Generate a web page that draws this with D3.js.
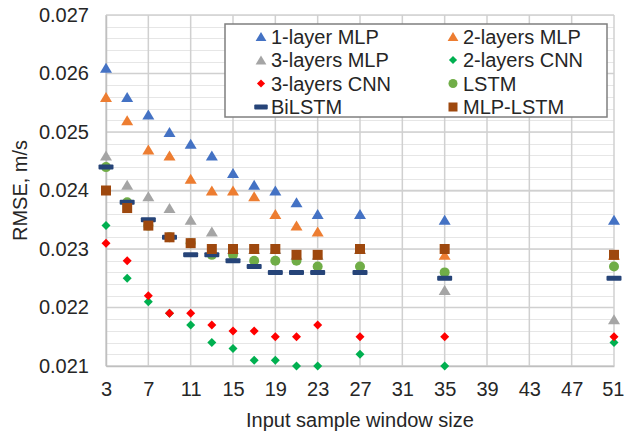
<!DOCTYPE html>
<html>
<head>
<meta charset="utf-8">
<script src="https://cdn.jsdelivr.net/npm/d3@7"></script>
<style>
  body { margin: 0; background: #fff; }
  text { font-family: "Liberation Sans", Arial, sans-serif; fill: #262626; }
</style>
</head>
<body>
<div id="chart"></div>
<script>
// Data
var windowSizes = [3, 5, 7, 9, 11, 13, 15, 17, 19, 21, 23, 27, 35, 51];
var mlp1   = [0.0261, 0.0256, 0.0253, 0.0250, 0.0248, 0.0246, 0.0243, 0.0241, 0.0240, 0.0238, 0.0236, 0.0236, 0.0235, 0.0235];
var mlp2   = [0.0256, 0.0252, 0.0247, 0.0246, 0.0242, 0.0240, 0.0240, 0.0239, 0.0236, 0.0234, 0.0233, 0.0230, 0.0229, 0.0229];
var mlp3   = [0.0246, 0.0241, 0.0239, 0.0237, 0.0235, 0.0233, 0.0230, 0.0230, 0.0230, 0.0229, 0.0229, 0.0230, 0.0223, 0.0218];
var cnn2   = [0.0234, 0.0225, 0.0221, 0.0219, 0.0217, 0.0214, 0.0213, 0.0211, 0.0211, 0.0210, 0.0210, 0.0212, 0.0210, 0.0214];
var cnn3   = [0.0231, 0.0228, 0.0222, 0.0219, 0.0219, 0.0217, 0.0216, 0.0216, 0.0215, 0.0215, 0.0217, 0.0215, 0.0215, 0.0215];
var lstm   = [0.0244, 0.0238, 0.0234, 0.0232, 0.0231, 0.0229, 0.0229, 0.0228, 0.0228, 0.0228, 0.0227, 0.0227, 0.0226, 0.0227];
var bilstm = [0.0244, 0.0238, 0.0235, 0.0232, 0.0229, 0.0229, 0.0228, 0.0227, 0.0226, 0.0226, 0.0226, 0.0226, 0.0225, 0.0225];
var mlpLstm = [0.0240, 0.0237, 0.0234, 0.0232, 0.0231, 0.0230, 0.0230, 0.0230, 0.0230, 0.0229, 0.0229, 0.0230, 0.0230, 0.0229];

var xTicks = [3, 7, 11, 15, 19, 23, 27, 31, 35, 39, 43, 47, 51];
var yTicks = [0.021, 0.022, 0.023, 0.024, 0.025, 0.026, 0.027];

var series = [
    { name: '1-layer MLP',  values: mlp1,    shape: 'triangle', color: '#4472C4' },
    { name: '2-layers MLP', values: mlp2,    shape: 'triangle', color: '#ED7D31' },
    { name: '3-layers MLP', values: mlp3,    shape: 'triangle', color: '#A5A5A5' },
    { name: '2-layers CNN', values: cnn2,    shape: 'diamond',  color: '#00B050' },
    { name: '3-layers CNN', values: cnn3,    shape: 'diamond',  color: '#FF0000' },
    { name: 'LSTM',         values: lstm,    shape: 'circle',   color: '#70AD47' },
    { name: 'BiLSTM',       values: bilstm,  shape: 'dash',     color: '#264478' },
    { name: 'MLP-LSTM',     values: mlpLstm, shape: 'square',   color: '#9E480E' }
];

var w = 624, h = 435;
var plotLeft = 106, plotRight = 614, plotTop = 15, plotBottom = 366;

var svg = d3.select('#chart').append('svg')
    .attr('width', w)
    .attr('height', h);

var x = d3.scaleLinear().domain([3, 51]).range([plotLeft, plotRight]);
var y = d3.scaleLinear().domain([0.021, 0.027]).range([plotBottom, plotTop]);

// Minor horizontal gridlines
var minor = d3.range(0, 31).map(function (i) { return 0.021 + i * 0.0002; });
svg.append('g').selectAll('line')
    .data(minor)
    .enter().append('line')
    .attr('x1', plotLeft).attr('x2', plotRight)
    .attr('y1', function (d) { return Math.round(y(d)) + 0.5; })
    .attr('y2', function (d) { return Math.round(y(d)) + 0.5; })
    .attr('stroke', '#E6E6E6')
    .attr('stroke-width', 1);

// Major gridlines
svg.append('g').selectAll('line')
    .data(yTicks)
    .enter().append('line')
    .attr('x1', plotLeft).attr('x2', plotRight)
    .attr('y1', function (d) { return y(d); })
    .attr('y2', function (d) { return y(d); })
    .attr('stroke', '#D0D0D0')
    .attr('stroke-width', 1.5);

svg.append('g').selectAll('line')
    .data(xTicks)
    .enter().append('line')
    .attr('x1', function (d) { return x(d); })
    .attr('x2', function (d) { return x(d); })
    .attr('y1', plotTop).attr('y2', plotBottom)
    .attr('stroke', '#D0D0D0')
    .attr('stroke-width', 1.5);

// Axes
var xAxis = svg.append('g')
    .attr('transform', 'translate(0,' + plotBottom + ')')
    .call(d3.axisBottom(x).tickValues(xTicks).tickSize(0).tickPadding(16));
var yAxis = svg.append('g')
    .attr('transform', 'translate(' + plotLeft + ',0)')
    .call(d3.axisLeft(y).tickValues(yTicks).tickFormat(d3.format('.3f')).tickSize(0).tickPadding(17));

[xAxis, yAxis].forEach(function (a) {
    a.select('.domain').attr('stroke', '#BFBFBF').attr('stroke-width', 1.5);
    a.selectAll('text')
        .attr('font-size', '20px')
        .attr('font-family', '"Liberation Sans", Arial, sans-serif')
        .attr('fill', '#262626');
});

// keep the last x label inside the frame
xAxis.selectAll('.tick text')
    .filter(function (d) { return d === 51; })
    .attr('text-anchor', 'end')
    .attr('dx', 10);

// Axis titles
svg.append('text')
    .attr('x', (plotLeft + plotRight) / 2)
    .attr('y', 427)
    .attr('text-anchor', 'middle')
    .attr('font-size', '20px')
    .text('Input sample window size');

svg.append('text')
    .attr('transform', 'translate(27,' + (plotTop + plotBottom) / 2 + ') rotate(-90)')
    .attr('text-anchor', 'middle')
    .attr('font-size', '20px')
    .text('RMSE, m/s');

// Marker drawing (s = nominal size in px)
function drawMarker(g, shape, color, s) {
    if (shape === 'triangle') {
        var hw = s * 0.6, hh = s * 0.5;
        g.append('path')
            .attr('d', 'M0,' + (-hh) + 'L' + hw + ',' + hh + 'L' + (-hw) + ',' + hh + 'Z')
            .attr('fill', color);
    } else if (shape === 'diamond') {
        var d = s * 0.45;
        g.append('path')
            .attr('d', 'M0,' + (-d) + 'L' + d + ',0L0,' + d + 'L' + (-d) + ',0Z')
            .attr('fill', color);
    } else if (shape === 'circle') {
        g.append('circle').attr('r', s * 0.5).attr('fill', color);
    } else if (shape === 'square') {
        g.append('rect')
            .attr('x', -s * 0.5).attr('y', -s * 0.5)
            .attr('width', s).attr('height', s)
            .attr('fill', color);
    } else if (shape === 'dash') {
        g.append('rect')
            .attr('x', -s * 0.75).attr('y', -2.5)
            .attr('width', s * 1.5).attr('height', 5)
            .attr('rx', 1)
            .attr('fill', color);
    }
}

// Points
series.forEach(function (s) {
    var g = svg.append('g');
    s.values.forEach(function (v, i) {
        var m = g.append('g')
            .attr('transform', 'translate(' + x(windowSizes[i]) + ',' + y(v) + ')');
        drawMarker(m, s.shape, s.color, 10);
    });
});

// Legend
var legend = svg.append('g');
legend.append('rect')
    .attr('x', 225).attr('y', 24)
    .attr('width', 382).attr('height', 93)
    .attr('fill', '#fff')
    .attr('stroke', '#7F7F7F')
    .attr('stroke-width', 1.5);

series.forEach(function (s, i) {
    var col = i % 2, row = Math.floor(i / 2);
    var mx = col === 0 ? 261 : 453;
    var my = 36.5 + row * 23.5;
    var m = legend.append('g').attr('transform', 'translate(' + mx + ',' + my + ')');
    drawMarker(m, s.shape, s.color, 9);
    legend.append('text')
        .attr('x', mx + 10)
        .attr('y', my)
        .attr('dy', '0.35em')
        .attr('font-size', '20px')
        .text(s.name);
});
</script>
</body>
</html>
